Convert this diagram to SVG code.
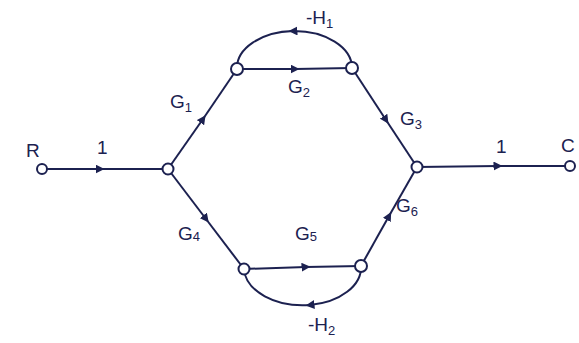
<svg xmlns="http://www.w3.org/2000/svg" width="579" height="343" viewBox="0 0 579 343">
<style>
.e{fill:none;stroke:#1c2150;stroke-width:2}
.n{fill:#fff;stroke:#1c2150;stroke-width:2}
.t{font-family:"Liberation Sans",Arial,sans-serif;font-size:19px;fill:#1c2150}
.s{font-size:13px}
</style>
<defs>
<marker id="a" viewBox="0 0 10 10" refX="5" refY="5" markerWidth="9" markerHeight="9" markerUnits="userSpaceOnUse" orient="auto">
<path d="M0,0 L10,5 L0,10 Z" fill="#1c2150"/>
</marker>
</defs>
<rect width="579" height="343" fill="#fff"/>
<g id="connectors">
<path class="e" d="M42,169 L100,169" marker-end="url(#a)"/><path class="e" d="M100,169 L168,169"/>
<path class="e" d="M168,169 L203,119" marker-end="url(#a)"/><path class="e" d="M203,119 L237,69"/>
<path class="e" d="M237,69 L295,69" marker-end="url(#a)"/><path class="e" d="M295,69 L352,68"/>
<path class="e" d="M352,68 L386,120" marker-end="url(#a)"/><path class="e" d="M386,120 L417,167"/>
<path class="e" d="M417,167 L498,166" marker-end="url(#a)"/><path class="e" d="M498,166 L570,166"/>
<path class="e" d="M168,169 L206,219" marker-end="url(#a)"/><path class="e" d="M206,219 L244,269"/>
<path class="e" d="M244,269 L306,267" marker-end="url(#a)"/><path class="e" d="M306,267 L361,266"/>
<path class="e" d="M361,266 L389,216" marker-end="url(#a)"/><path class="e" d="M389,216 L417,167"/>
<path class="e" d="M352,68 A58,37 0 0,0 293,31" marker-end="url(#a)"/><path class="e" d="M293,31 A58,37 0 0,0 237,69"/>
<path class="e" d="M361,266 A59,38 0 0,1 310,305" marker-end="url(#a)"/><path class="e" d="M310,305 A59,38 0 0,1 244,269"/>
</g>
<g id="R"><circle class="n" cx="42" cy="169" r="5"/><text class="t" x="26" y="157">R</text></g>
<g id="n1"><circle class="n" cx="168" cy="169" r="5.5"/></g>
<g id="n2"><circle class="n" cx="237" cy="69" r="6"/></g>
<g id="n3"><circle class="n" cx="352" cy="68" r="6"/></g>
<g id="n4"><circle class="n" cx="244" cy="269" r="5.5"/></g>
<g id="n5"><circle class="n" cx="361" cy="266" r="6"/></g>
<g id="n6"><circle class="n" cx="417" cy="167" r="5.5"/></g>
<g id="C"><circle class="n" cx="570" cy="166" r="5"/><text class="t" x="561" y="152">C</text></g>
<g id="labels">
<text class="t" x="97" y="154">1</text>
<text class="t" x="170" y="108">G<tspan class="s" dy="4">1</tspan></text>
<text class="t" x="288" y="93">G<tspan class="s" dy="4">2</tspan></text>
<text class="t" x="400" y="125">G<tspan class="s" dy="4">3</tspan></text>
<text class="t" x="306" y="24">-H<tspan class="s" dy="4">1</tspan></text>
<text class="t" x="496" y="153">1</text>
<text class="t" x="178" y="240">G<tspan class="s" dy="1">4</tspan></text>
<text class="t" x="295" y="240">G<tspan class="s" dy="1">5</tspan></text>
<text class="t" x="396" y="212">G<tspan class="s" dy="4">6</tspan></text>
<text class="t" x="308" y="331">-H<tspan class="s" dy="4">2</tspan></text>
</g>
</svg>
